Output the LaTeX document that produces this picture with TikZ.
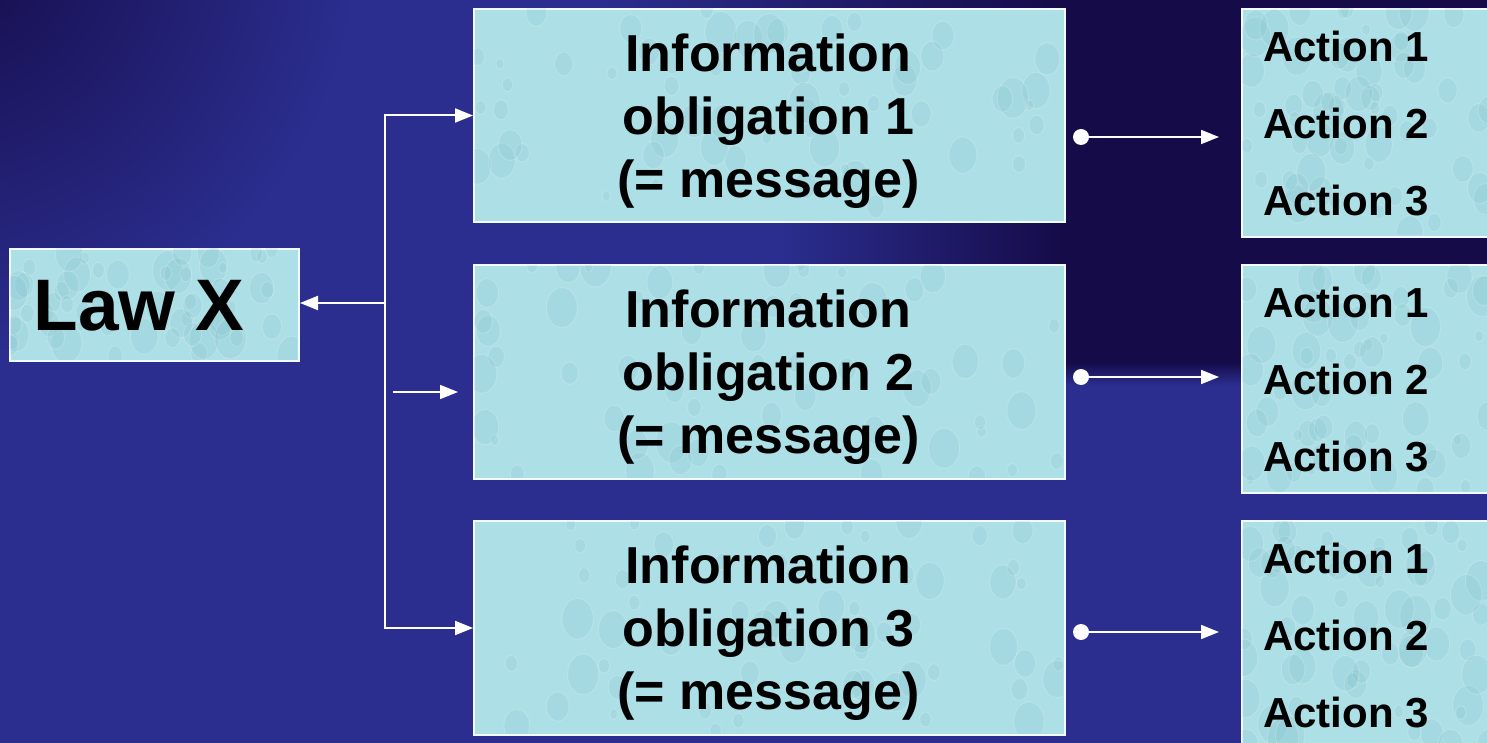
\documentclass[tikz,border=0pt]{standalone}
\usepackage{fontspec}
\setmainfont{Liberation Sans}
\usetikzlibrary{arrows.meta}
\definecolor{bgblue}{HTML}{2B2E8F}
\definecolor{bgdark}{HTML}{150B48}
\definecolor{boxfill}{HTML}{ADDFE6}
\definecolor{dropcol}{HTML}{5FA9B5}
\tikzset{
  pane/.style={draw=white!85!boxfill,line width=2pt,fill=boxfill,inner sep=0pt,anchor=north west},
  infotext/.style={font=\fontsize{52}{63}\selectfont\bfseries,align=center,text=black},
  acttext/.style={font=\fontsize{42}{77}\selectfont\bfseries,align=left,text=black,anchor=west,inner sep=0pt},
  link/.style={draw=white,line width=2pt,-{Triangle[length=18pt,width=14pt]}},
  thinlink/.style={draw=white,line width=1.6pt,-{Triangle[length=18pt,width=14pt]}},
  drop/.style={fill=dropcol,fill opacity=0.10,draw=white,draw opacity=0.18,line width=1pt},
}
\newcommand\droptex[4]{%
  \begin{scope}
  \clip (#1,#2) rectangle ++(#3,#4);
  \foreach \k in {1,...,60}{%
    \pgfmathsetmacro\px{#1+#3*rnd}%
    \pgfmathsetmacro\py{#2+#4*rnd}%
    \pgfmathsetmacro\pr{4+12*rnd}%
    \path[drop] (\px,\py) ellipse ({\pr} and {1.3*\pr});
  }
  \end{scope}}
\begin{document}
\begin{tikzpicture}[x=1pt,y=-1pt]
\pgfmathsetseed{11}
\useasboundingbox (0,0) rectangle (1487,743);
\fill[bgblue] (0,0) rectangle (1487,743);
% background shading
\shade[inner color=bgdark,outer color=bgblue] (-60,-60) circle (420);
\shade[left color=bgblue,right color=bgdark] (600,0) rectangle (1064,8);
\fill[bgdark] (1064,0) rectangle (1487,362);
\shade[top color=bgdark,bottom color=bgblue] (1064,362) rectangle (1487,385);
\shade[left color=bgblue,right color=bgdark] (780,221) rectangle (1064,264);
% boxes
\node[pane,minimum width=289pt,minimum height=112pt] (law) at (9,248) {};
\droptex{10}{249}{287}{110}
\node[infotext,font=\fontsize{73}{80}\selectfont\bfseries] (lawt) at (139,306) {Law X};
\node[pane,minimum width=591pt,minimum height=213pt] (info1) at (473,8) {};
\node[pane,minimum width=591pt,minimum height=214pt] (info2) at (473,264) {};
\node[pane,minimum width=591pt,minimum height=214pt] (info3) at (473,520) {};
\droptex{474}{9}{589}{211}
\droptex{474}{265}{589}{212}
\droptex{474}{521}{589}{212}
\node[infotext] (t1) at (768.5,121) {Information\\obligation 1\\(= message)};
\node[infotext] (t2) at (768.5,377) {Information\\obligation 2\\(= message)};
\node[infotext] (t3) at (768.5,633) {Information\\obligation 3\\(= message)};
\node[pane,minimum width=260pt,minimum height=228pt] (act1) at (1241,8) {};
\node[pane,minimum width=260pt,minimum height=228pt] (act2) at (1241,264) {};
\node[pane,minimum width=260pt,minimum height=228pt] (act3) at (1241,520) {};
\droptex{1242}{9}{250}{226}
\droptex{1242}{265}{250}{226}
\droptex{1242}{521}{250}{226}
\node[acttext] (a1) at (1263,124) {Action 1\\Action 2\\Action 3};
\node[acttext] (a2) at (1263,380) {Action 1\\Action 2\\Action 3};
\node[acttext] (a3) at (1263,636) {Action 1\\Action 2\\Action 3};
% connectors
\coordinate (j) at (385,303);
\draw[link] (j) -- (law.east |- j);
\draw[link] (j) |- (info1.west);
\draw[link] (j) |- (info3.west);
\coordinate (m1) at (393,392);
\coordinate (m2) at (458,392);
\draw[thinlink] (m1) -- (m2);
\foreach \i/\yy in {1/137,2/377,3/632}{
  \coordinate (d\i) at (1081,\yy);
  \coordinate (e\i) at (1219,\yy);
  \fill[white] (d\i) circle (8pt);
  \draw[thinlink] (d\i) -- (e\i);
}
\end{tikzpicture}
\end{document}
